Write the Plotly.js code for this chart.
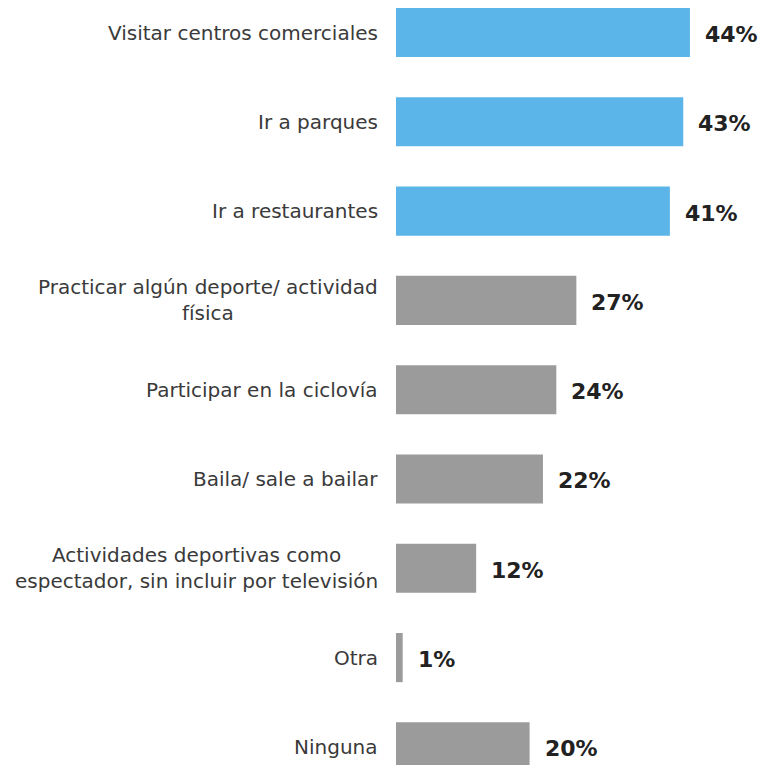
<!DOCTYPE html>
<html>
<head>
<meta charset="utf-8">
<script src="https://cdn.plot.ly/plotly-3.0.1.min.js"></script>
<style>
html,body{margin:0;padding:0;background:#fff;}
#chart{width:759px;height:765px;}
</style>
</head>
<body>
<div id="chart"></div>
<script>
const categories = [
  "Visitar centros comerciales",
  "Ir a parques",
  "Ir a restaurantes",
  "Practicar algún deporte/ actividad<br>física",
  "Participar en la ciclovía",
  "Baila/ sale a bailar",
  "Actividades deportivas como<br>espectador, sin incluir por televisión",
  "Otra",
  "Ninguna"
];
const values = [44, 43, 41, 27, 24, 22, 12, 1, 20];
const valueLabels = ["44%", "43%", "41%", "27%", "24%", "22%", "12%", "1%", "20%"];
const barColors = ["#5CB5E8", "#5CB5E8", "#5CB5E8", "#9B9B9B", "#9B9B9B", "#9B9B9B", "#9B9B9B", "#9B9B9B", "#9B9B9B"];

const FONT = "DejaVu Sans, sans-serif";

const trace = {
  type: "bar",
  orientation: "h",
  y: categories,
  x: values,
  width: 0.55,
  marker: {color: barColors, line: {width: 0}},
  hoverinfo: "none"
};

const annotations = [];
categories.forEach((c, i) => {
  annotations.push({
    xref: "paper", yref: "y", x: 0, y: c,
    xanchor: "right", yanchor: "middle", xshift: -16,
    text: c, showarrow: false, align: "center",
    font: {family: FONT, size: 20, color: "#3a3a3a"}
  });
  annotations.push({
    xref: "x", yref: "y", x: values[i], y: c,
    xanchor: "left", yanchor: "middle", xshift: 13, yshift: -2,
    text: "<b>" + valueLabels[i] + "</b>", showarrow: false,
    font: {family: FONT, size: 22, color: "#222222"}
  });
});

const layout = {
  width: 759, height: 765,
  margin: {l: 396, r: 0, t: 0, b: 0, pad: 0},
  paper_bgcolor: "#ffffff", plot_bgcolor: "#ffffff",
  showlegend: false,
  xaxis: {range: [0, 54.34], visible: false, fixedrange: true},
  yaxis: {type: "category", range: [8.203, -0.364], showticklabels: false,
          showgrid: false, zeroline: false, showline: false, ticks: "", fixedrange: true},
  annotations: annotations
};

Plotly.newPlot("chart", [trace], layout, {displayModeBar: false, staticPlot: true});
</script>
</body>
</html>
